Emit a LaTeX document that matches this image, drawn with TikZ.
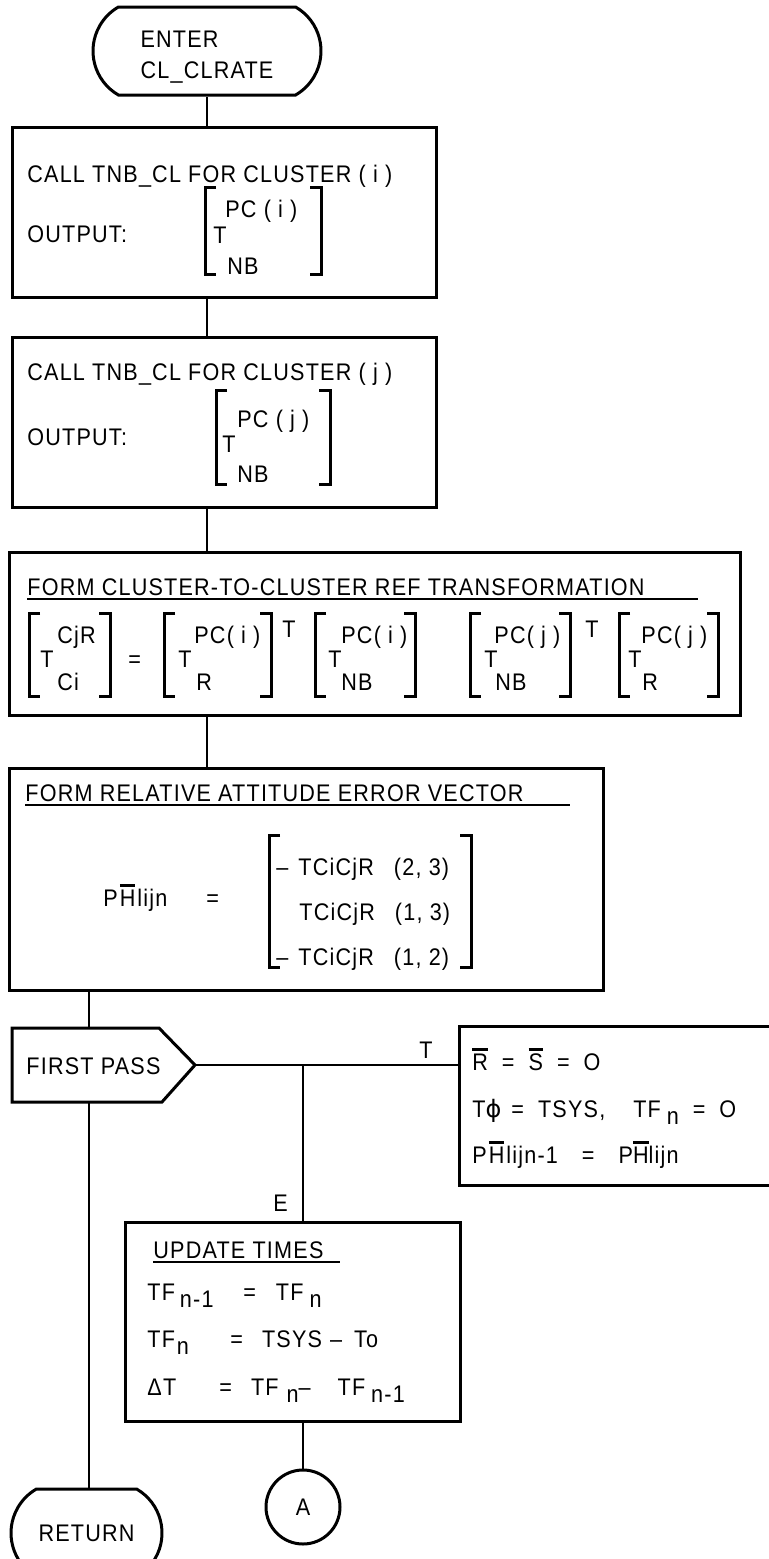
\documentclass[tikz,border=0pt]{standalone}
\usepackage{fontspec}
\setmainfont[FakeStretch=0.9, LetterSpace=5]{Liberation Sans}
\newfontfamily\phifont{DejaVu Sans}
\usepackage{tikz}
\usetikzlibrary{positioning,shapes.misc,fit}
\newcommand{\mtx}[4]{\draw[Brackets] (#1+11,#3) -- (#1,#3) -- (#1,#4) -- (#1+11,#4); \draw[Brackets] (#2-11,#3) -- (#2,#3) -- (#2,#4) -- (#2-11,#4);}
\newcommand{\ovl}[1]{\setbox0=\hbox{#1}\rlap{\rule[\dimexpr\ht0+1.3pt\relax]{\wd0}{1.3pt}}\box0}
\newcommand{\lowr}[1]{\raisebox{-3.5pt}{#1}}
\newcommand{\uline}[2]{\rlap{\rule[-2.5pt]{#2}{1pt}}#1}

\begin{document}
\begin{tikzpicture}[
x=0.5pt, y=-0.5pt,
Boxes/.style={draw, line width=1.5pt, inner sep=0pt},
Terminals/.style={draw, line width=1.5pt, rounded rectangle, rounded rectangle arc length=120, inner sep=0pt},
Links/.style={line width=1.4pt},
Brackets/.style={line width=1.5pt},
Texts/.style={anchor=base west, inner sep=0pt},
every node/.style={font=\fontsize{12}{15.5}\selectfont}
]
\useasboundingbox (0,0) rectangle (769,1559);
\clip (0,0) rectangle (769,1559);

% terminals and boxes
\node[Terminals, minimum width=114pt, minimum height=44pt, align=left] (enter) at (207,51) {\rule{0pt}{14.6pt}ENTER\\CL\_CLRATE};
\node[Boxes, fit={(12,127) (436,297)}] (b1) {};
\node[Boxes, fit={(12,337) (436,507)}] (b2) {};
\node[Boxes, fit={(9,552) (740,715)}] (b3) {};
\node[Boxes, fit={(9,768) (603,990)}] (b4) {};
\node[Boxes, fit={(459,1026) (800,1185)}] (b5) {};
\node[Boxes, fit={(125,1222) (460,1421)}] (b6) {};
\node[Terminals, minimum width=75.5pt, minimum height=44pt] (ret) at (86.5,1533) {RETURN\hspace{8pt}};
\node[draw, circle, line width=1.5pt, minimum size=37pt, inner sep=0pt] (conA) at (303,1507) {A};

% first pass
\draw[Boxes] (12,1028) -- (159,1028) -- (195,1065) -- (162,1102) -- (12,1102) -- cycle;
\node[Texts] (fp) at (26,1074) {FIRST PASS};
\coordinate (fptop) at (89,1028);
\coordinate (fpbot) at (89,1102);
\coordinate (fptip) at (195,1065);
\coordinate (jn) at (303,1065);

% connectors
\draw[Links] (enter.south) -- (enter.south |- b1.north);
\draw[Links] (enter.south |- b1.south) -- (enter.south |- b2.north);
\draw[Links] (enter.south |- b2.south) -- (enter.south |- b3.north);
\draw[Links] (enter.south |- b3.south) -- (enter.south |- b4.north);
\draw[Links] (b4.south -| fptop) -- (fptop);
\draw[Links] (fptip) -- (fptip -| b5.west);
\draw[Links] (jn) -- (jn |- b6.north);
\draw[Links] (fpbot) -- (fpbot |- ret.north);
\draw[Links] (jn |- b6.south) -- (conA.north);
\node[Texts] (tlab) at (419,1058) {T};
\node[Texts] (elab) at (273,1211) {E};

% box 1
\node[Texts] (call1) at (27,182) {CALL TNB\_CL FOR CLUSTER ( i )};
\node[Texts] (out1) at (27,242) {OUTPUT:};
\mtx{205}{321}{187}{274}
\node[Texts] (pc1) at (225,217) {PC ( i )};
\node[Texts] (t1) at (213,243) {T};
\node[Texts] (nb1) at (227,274) {NB};

% box 2
\node[Texts] (call2) at (27,380) {CALL TNB\_CL FOR CLUSTER ( j )};
\node[Texts] (out2) at (27,445) {OUTPUT:};
\mtx{216}{330}{390}{484}
\node[Texts] (pc2) at (237,427) {PC ( j )};
\node[Texts] (t2) at (222,452) {T};
\node[Texts] (nb2) at (237,482) {NB};

% box 3
\node[Texts] (head3) at (27,595) {\uline{FORM CLUSTER-TO-CLUSTER REF TRANSFORMATION}{335.5pt}};
\mtx{29}{110}{613}{696}
\node[Texts] (m1t) at (40,667) {T};
\node[Texts] (m1u) at (57,643) {CjR};
\node[Texts] (m1l) at (57,690) {Ci};
\node[Texts] (eq3) at (128,667) {=};
\mtx{164}{271}{613}{696}
\node[Texts] (m2t) at (178,667) {T};
\node[Texts] (m2u) at (194,643) {PC( i )};
\node[Texts] (m2l) at (196,690) {R};
\node[Texts] (m2s) at (282,637) {T};
\mtx{315}{415}{613}{696}
\node[Texts] (m3t) at (328,667) {T};
\node[Texts] (m3u) at (341,643) {PC( i )};
\node[Texts] (m3l) at (341,690) {NB};
\mtx{470}{570}{613}{696}
\node[Texts] (m4t) at (484,667) {T};
\node[Texts] (m4u) at (494,643) {PC( j )};
\node[Texts] (m4l) at (495,690) {NB};
\node[Texts] (m4s) at (585,637) {T};
\mtx{619}{718}{613}{696}
\node[Texts] (m5t) at (628,667) {T};
\node[Texts] (m5u) at (641,643) {PC( j )};
\node[Texts] (m5l) at (642,690) {R};

% box 4
\node[Texts] (head4) at (25,801) {\uline{FORM RELATIVE ATTITUDE ERROR VECTOR}{272.5pt}};
\node[Texts] (phi4) at (103,906) {P\hspace{1pt}\ovl{H}\hspace{1pt}lijn};
\node[Texts] (eq4) at (206,906) {=};
\mtx{269}{471}{835}{967}
\node[Texts] (r41) at (276,875) {–\hspace{5pt}TCiCjR\hspace{10pt}(2, 3)};
\node[Texts] (r42) at (299,920) {TCiCjR\hspace{10pt}(1, 3)};
\node[Texts] (r43) at (276,965) {–\hspace{5pt}TCiCjR\hspace{10pt}(1, 2)};

% box 5
\node[Texts] (r51) at (472,1070) {\ovl{R}\hspace{7pt}=\hspace{7pt}\ovl{S}\hspace{7pt}=\hspace{7pt}O};
\node[Texts] (r52) at (472,1117) {T{\phifont ϕ}\hspace{5pt}=\hspace{7pt}TSYS,\hspace{14pt}TF\hspace{3pt}\lowr{n}\hspace{7pt}=\hspace{7pt}O};
\node[Texts] (r53) at (472,1163) {P\hspace{1pt}\ovl{H}\hspace{1pt}lijn-1\hspace{12pt}=\hspace{12pt}P\ovl{H}lijn};

% box 6
\node[Texts] (head6) at (153,1258) {\uline{UPDATE TIMES}{93.5pt}};
\node[Texts] (r61) at (147,1300) {\makebox[48pt][l]{TF\hspace{2.5pt}\lowr{n-1}}=\hspace{10pt}TF\hspace{3pt}\lowr{n}};
\node[Texts] (r62) at (147,1347) {\makebox[41.5pt][l]{TF\hspace{1pt}\lowr{n}}=\hspace{9.5pt}TSYS\hspace{4pt}–\hspace{6pt}To};
\node[Texts] (r63) at (147,1395) {\makebox[36pt][l]{ΔT}=\hspace{9.5pt}TF\hspace{4pt}\lowr{n}–\hspace{13.5pt}TF\hspace{3pt}\lowr{n-1}};

\end{tikzpicture}
\end{document}
